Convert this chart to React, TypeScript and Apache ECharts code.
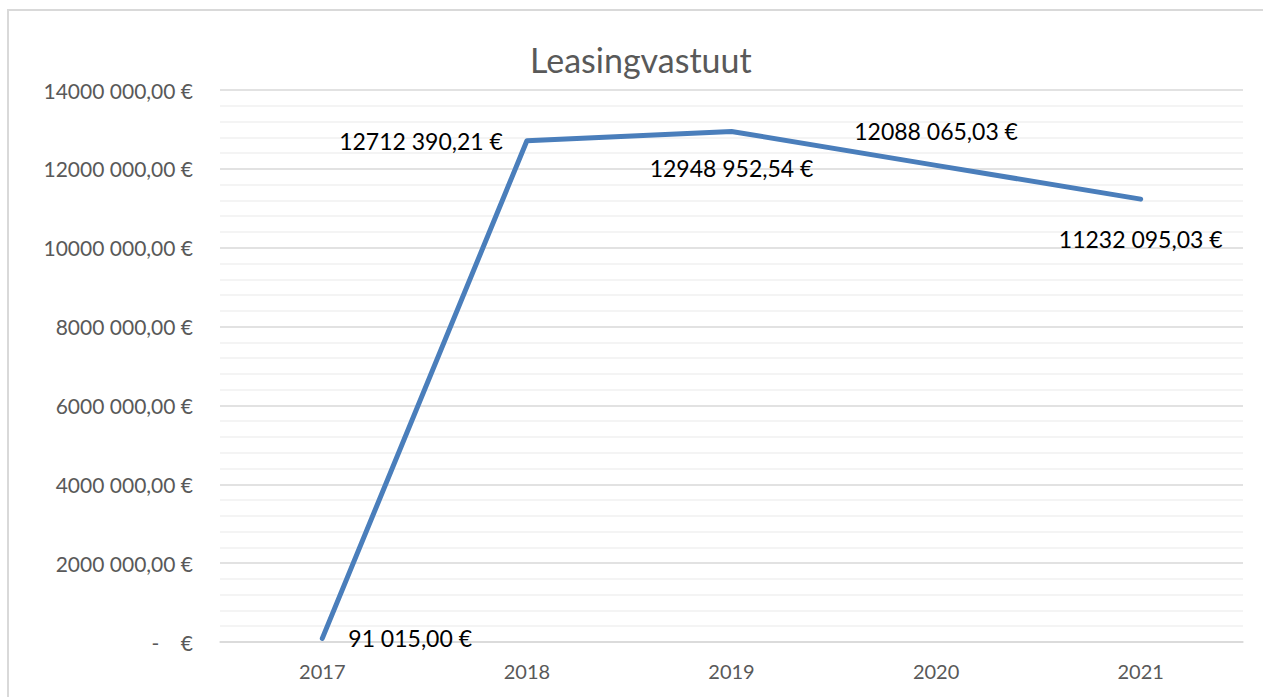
import React, { useEffect, useRef } from "react";
import * as echarts from "echarts";

const categories = ["2017", "2018", "2019", "2020", "2021"];
const values = [91015.0, 12712390.21, 12948952.54, 12088065.03, 11232095.03];
const labelPositions = ["right", "left", "bottom", "top", "bottom"];
const labelDistances = [26, 24, 25, 23, 28];
const yMin = 0;
const yMax = 14000000;
const yInterval = 2000000;

function fmtEuro(v: number): string {
  if (v === 0) return "-    €";
  const fixed = v.toFixed(2);
  const [intPart, dec] = fixed.split(".");
  const n = parseInt(intPart, 10);
  let s: string;
  if (n >= 1000) {
    const head = Math.floor(n / 1000);
    const tail = String(n % 1000).padStart(3, "0");
    s = `${head} ${tail}`;
  } else {
    s = String(n);
  }
  return `${s},${dec} €`;
}

const FONT = "Lato, 'Open Sans', sans-serif";

export default function App() {
  const ref = useRef<HTMLDivElement>(null);
  useEffect(() => {
    if (!ref.current) return;
    const chart = echarts.init(ref.current, null, { renderer: "svg" });
    chart.setOption({
      animation: false,
      backgroundColor: "#ffffff",
      title: {
        text: "Leasingvastuut",
        left: 525,
        top: 37,
        textStyle: { fontFamily: FONT, fontSize: 34, fontWeight: "normal", color: "#595959" },
      },
      graphic: [
        {
          type: "rect",
          shape: { x: 8, y: 10, width: 1300, height: 720 },
          style: { fill: "none", stroke: "#d9d9d9", lineWidth: 2 },
          silent: true,
        },
      ],
      grid: { left: 220, right: 20, top: 90, bottom: 55, containLabel: false },
      xAxis: {
        type: "category",
        data: categories,
        boundaryGap: true,
        axisLine: { show: true, lineStyle: { color: "#d9d9d9", width: 1.5 } },
        axisTick: { show: false },
        axisLabel: { color: "#595959", fontSize: 20, fontFamily: FONT, margin: 19 },
        splitLine: { show: false },
      },
      yAxis: {
        type: "value",
        min: yMin,
        max: yMax,
        interval: yInterval,
        axisLine: { show: false },
        axisTick: { show: false },
        axisLabel: {
          color: "#595959",
          fontSize: 21,
          fontFamily: FONT,
          margin: 27,
          formatter: (v: number) => fmtEuro(v),
        },
        splitLine: { show: true, lineStyle: { color: "#d9d9d9", width: 1.5 } },
        minorTick: { show: false, splitNumber: 5 },
        minorSplitLine: { show: true, lineStyle: { color: "#f0f0f0", width: 1.5 } },
      },
      series: [
        {
          type: "line",
          data: values.map((v, i) => ({
            value: v,
            label: {
              show: true,
              position: labelPositions[i],
              distance: labelDistances[i],
            },
          })),
          symbol: "circle",
          symbolSize: 0,
          showSymbol: true,
          lineStyle: { color: "#4a7ebb", width: 5, cap: "round", join: "round" },
          itemStyle: { color: "#4a7ebb" },
          label: {
            show: true,
            color: "#000000",
            fontSize: 23,
            fontFamily: FONT,
            formatter: (p: any) => fmtEuro(p.value),
          },
        },
      ],
    });
    return () => chart.dispose();
  }, []);
  return (
    <div
      ref={ref}
      style={{ position: "fixed", left: 0, top: 0, width: 1263, height: 697 }}
    />
  );
}
